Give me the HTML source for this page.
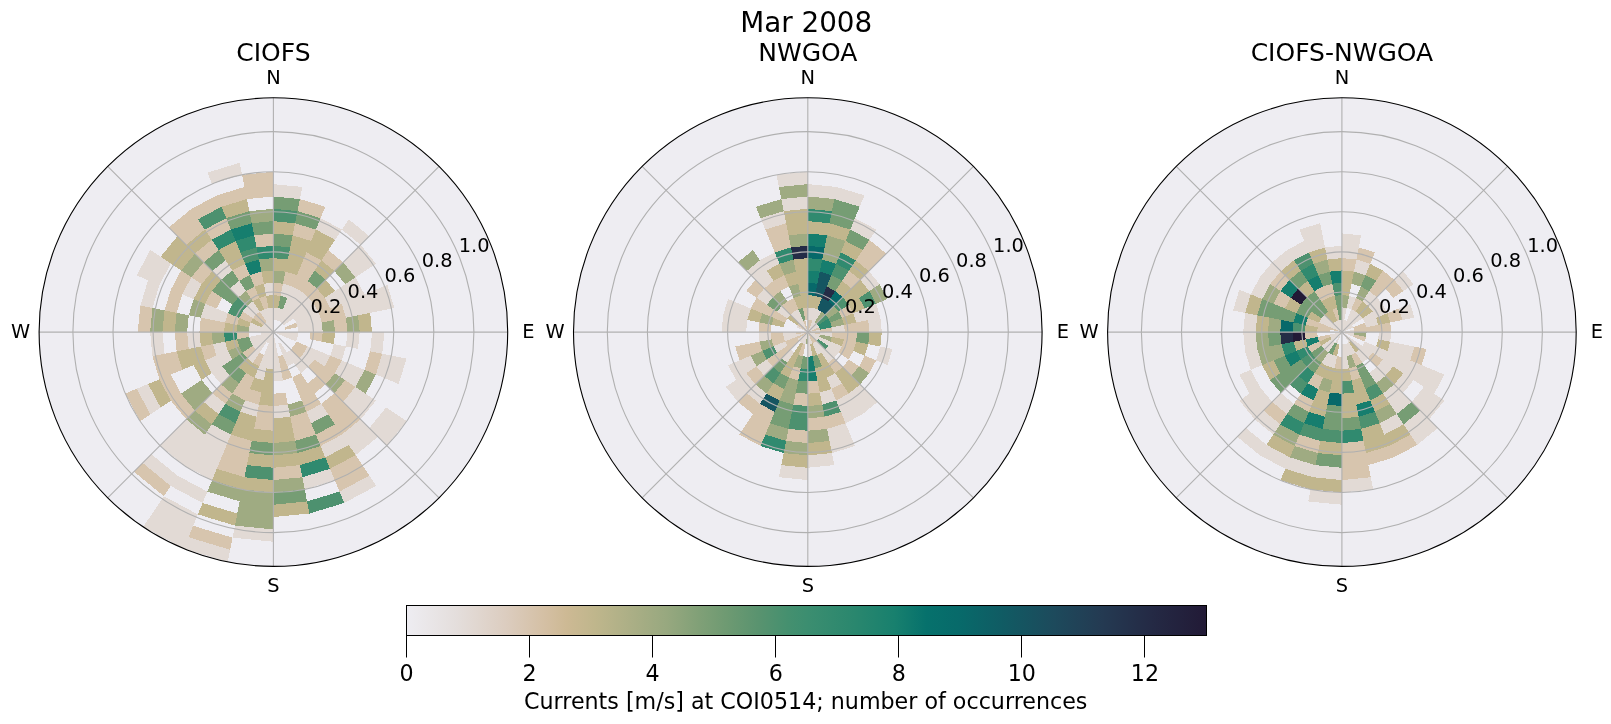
<!DOCTYPE html>
<html><head><meta charset="utf-8"><title>Mar 2008</title><style>html,body{margin:0;padding:0;background:#fff;width:1611px;height:724px;overflow:hidden}svg{display:block}text{will-change:transform}</style></head><body>
<svg width="1611" height="724" viewBox="0 0 1611 724" font-family="'DejaVu Sans', 'Liberation Sans', sans-serif"><circle cx="273.40" cy="332.10" r="234.30" fill="#eeedf2"/>
<g shape-rendering="crispEdges"><path fill="#e2dad5" d="M273.40 332.10L273.40 332.10L285.49 334.51L285.73 332.10ZM273.40 332.10L273.40 332.10L284.79 336.82L285.49 334.51ZM273.40 332.10L273.40 332.10L273.40 344.43L275.81 344.19ZM273.40 332.10L273.40 332.10L270.99 344.19L273.40 344.43ZM273.40 332.10L273.40 332.10L268.68 343.49L270.99 344.19ZM273.40 332.10L273.40 332.10L266.55 342.35L268.68 343.49ZM273.40 332.10L273.40 332.10L264.68 340.82L266.55 342.35ZM273.40 332.10L273.40 332.10L263.15 338.95L264.68 340.82ZM273.40 332.10L273.40 332.10L262.01 336.82L263.15 338.95ZM273.40 332.10L273.40 332.10L261.31 334.51L262.01 336.82ZM273.40 332.10L273.40 332.10L261.07 332.10L261.31 334.51ZM273.40 332.10L273.40 332.10L261.31 329.69L261.07 332.10ZM273.40 332.10L273.40 332.10L262.01 327.38L261.31 329.69ZM273.40 332.10L273.40 332.10L263.15 325.25L262.01 327.38ZM273.40 332.10L273.40 332.10L264.68 323.38L263.15 325.25ZM273.40 332.10L273.40 332.10L266.55 321.85L264.68 323.38ZM273.40 332.10L273.40 332.10L268.68 320.71L266.55 321.85ZM273.40 332.10L273.40 332.10L270.99 320.01L268.68 320.71ZM273.40 332.10L273.40 332.10L273.40 319.77L270.99 320.01ZM273.40 319.77L275.81 320.01L278.21 307.91L273.40 307.44ZM275.81 320.01L278.12 320.71L282.84 309.31L278.21 307.91ZM278.12 320.71L280.25 321.85L287.10 311.59L282.84 309.31ZM280.25 321.85L282.12 323.38L290.84 314.66L287.10 311.59ZM282.12 323.38L283.65 325.25L293.91 318.40L290.84 314.66ZM285.73 332.10L285.49 334.51L297.59 336.91L298.06 332.10ZM285.49 334.51L284.79 336.82L296.19 341.54L297.59 336.91ZM280.25 342.35L278.12 343.49L282.84 354.89L287.10 352.61ZM275.81 344.19L273.40 344.43L273.40 356.76L278.21 356.29ZM273.40 344.43L270.99 344.19L268.59 356.29L273.40 356.76ZM270.99 344.19L268.68 343.49L263.96 354.89L268.59 356.29ZM266.55 342.35L264.68 340.82L255.96 349.54L259.70 352.61ZM264.68 340.82L263.15 338.95L252.89 345.80L255.96 349.54ZM263.15 338.95L262.01 336.82L250.61 341.54L252.89 345.80ZM262.01 336.82L261.31 334.51L249.21 336.91L250.61 341.54ZM261.07 332.10L261.31 329.69L249.21 327.29L248.74 332.10ZM261.31 329.69L262.01 327.38L250.61 322.66L249.21 327.29ZM266.55 321.85L268.68 320.71L263.96 309.31L259.70 311.59ZM268.68 320.71L270.99 320.01L268.59 307.91L263.96 309.31ZM270.99 320.01L273.40 319.77L273.40 307.44L268.59 307.91ZM282.84 309.31L287.10 311.59L293.95 301.34L287.56 297.92ZM287.10 311.59L290.84 314.66L299.56 305.94L293.95 301.34ZM290.84 314.66L293.91 318.40L304.16 311.55L299.56 305.94ZM293.91 318.40L296.19 322.66L307.58 317.94L304.16 311.55ZM296.19 322.66L297.59 327.29L309.68 324.88L307.58 317.94ZM297.59 327.29L298.06 332.10L310.39 332.10L309.68 324.88ZM290.84 349.54L287.10 352.61L293.95 362.86L299.56 358.26ZM287.10 352.61L282.84 354.89L287.56 366.28L293.95 362.86ZM278.21 356.29L273.40 356.76L273.40 369.09L280.62 368.38ZM273.40 356.76L268.59 356.29L266.18 368.38L273.40 369.09ZM268.59 356.29L263.96 354.89L259.24 366.28L266.18 368.38ZM259.70 352.61L255.96 349.54L247.24 358.26L252.85 362.86ZM252.89 318.40L255.96 314.66L247.24 305.94L242.64 311.55ZM255.96 314.66L259.70 311.59L252.85 301.34L247.24 305.94ZM280.62 295.82L287.56 297.92L292.28 286.53L283.02 283.72ZM287.56 297.92L293.95 301.34L300.80 291.09L292.28 286.53ZM293.95 301.34L299.56 305.94L308.28 297.22L300.80 291.09ZM299.56 305.94L304.16 311.55L314.41 304.70L308.28 297.22ZM304.16 311.55L307.58 317.94L318.97 313.22L314.41 304.70ZM307.58 317.94L309.68 324.88L321.78 322.48L318.97 313.22ZM309.68 324.88L310.39 332.10L322.73 332.10L321.78 322.48ZM307.58 346.26L304.16 352.65L314.41 359.50L318.97 350.98ZM304.16 352.65L299.56 358.26L308.28 366.98L314.41 359.50ZM299.56 358.26L293.95 362.86L300.80 373.11L308.28 366.98ZM280.62 368.38L273.40 369.09L273.40 381.43L283.02 380.48ZM266.18 368.38L259.24 366.28L254.52 377.67L263.78 380.48ZM266.18 295.82L273.40 295.11L273.40 282.77L263.78 283.72ZM318.97 350.98L314.41 359.50L324.67 366.36L330.36 355.70ZM232.39 359.50L227.83 350.98L216.44 355.70L222.13 366.36ZM227.83 350.98L225.02 341.72L212.93 344.13L216.44 355.70ZM225.02 322.48L227.83 313.22L216.44 308.50L212.93 320.07ZM238.52 297.22L246.00 291.09L239.14 280.83L229.80 288.50ZM324.67 297.84L330.36 308.50L341.76 303.79L334.92 290.99ZM333.87 344.13L330.36 355.70L341.76 360.41L345.97 346.53ZM229.80 375.70L222.13 366.36L211.88 373.21L221.08 384.42ZM222.13 366.36L216.44 355.70L205.04 360.41L211.88 373.21ZM212.93 320.07L216.44 308.50L205.04 303.79L200.83 317.67ZM334.92 290.99L341.76 303.79L353.15 299.07L345.17 284.14ZM341.76 303.79L345.97 317.67L358.06 315.26L353.15 299.07ZM347.39 332.10L345.97 346.53L358.06 348.94L359.72 332.10ZM341.76 360.41L334.92 373.21L345.17 380.06L353.15 365.13ZM287.83 404.67L273.40 406.09L273.40 418.42L290.24 416.76ZM258.97 404.67L245.09 400.46L240.37 411.85L256.56 416.76ZM200.83 346.53L199.41 332.10L187.08 332.10L188.74 348.94ZM221.08 279.78L232.29 270.58L225.44 260.33L212.36 271.06ZM345.17 284.14L353.15 299.07L364.54 294.35L355.43 277.29ZM353.15 299.07L358.06 315.26L370.16 312.85L364.54 294.35ZM353.15 365.13L345.17 380.06L355.43 386.91L364.54 369.85ZM321.36 403.87L306.43 411.85L311.15 423.24L328.21 414.13ZM225.44 403.87L212.36 393.14L203.64 401.86L218.59 414.13ZM193.65 299.07L201.63 284.14L191.37 277.29L182.26 294.35ZM343.16 262.34L355.43 277.29L365.68 270.44L351.88 253.62ZM364.54 294.35L370.16 312.85L382.25 310.45L375.94 289.63ZM372.05 332.10L370.16 351.35L382.25 353.75L384.38 332.10ZM355.43 386.91L343.16 401.86L351.88 410.58L365.68 393.76ZM315.87 229.56L335.06 239.82L341.91 229.57L320.59 218.17ZM351.88 253.62L365.68 270.44L375.93 263.59L360.60 244.90ZM375.94 289.63L382.25 310.45L394.35 308.04L387.33 284.91ZM382.25 353.75L375.94 374.57L387.33 379.29L394.35 356.16ZM365.68 393.76L351.88 410.58L360.60 419.30L375.93 400.61ZM230.93 434.64L211.74 424.38L204.89 434.63L226.21 446.03ZM164.55 353.75L162.42 332.10L150.08 332.10L152.45 356.16ZM341.91 229.57L360.60 244.90L369.32 236.18L348.76 219.31ZM394.35 356.16L387.33 379.29L398.72 384.01L406.44 358.56ZM360.60 419.30L341.91 434.63L348.76 444.89L369.32 428.02ZM341.91 434.63L320.59 446.03L325.31 457.42L348.76 444.89ZM226.21 446.03L204.89 434.63L198.04 444.89L221.49 457.42ZM204.89 434.63L186.20 419.30L177.48 428.02L198.04 444.89ZM152.45 308.04L159.47 284.91L148.08 280.19L140.36 305.64ZM159.47 284.91L170.87 263.59L160.61 256.74L148.08 280.19ZM273.40 196.45L299.86 199.06L302.27 186.96L273.40 184.12ZM386.19 407.46L369.32 428.02L378.04 436.74L396.44 414.31ZM369.32 428.02L348.76 444.89L355.61 455.14L378.04 436.74ZM221.49 457.42L198.04 444.89L191.19 455.14L216.77 468.81ZM198.04 444.89L177.48 428.02L168.76 436.74L191.19 455.14ZM160.61 407.46L148.08 384.01L136.69 388.73L150.36 414.31ZM148.08 280.19L160.61 256.74L150.36 249.89L136.69 275.47ZM396.44 414.31L378.04 436.74L386.76 445.46L406.69 421.16ZM330.03 468.81L302.27 477.24L304.68 489.33L334.75 480.21ZM216.77 468.81L191.19 455.14L184.34 465.39L212.05 480.21ZM191.19 455.14L168.76 436.74L160.04 445.46L184.34 465.39ZM212.05 183.99L242.12 174.87L239.72 162.78L207.33 172.60ZM369.31 475.65L339.47 491.60L344.19 502.99L376.17 485.90ZM207.33 491.60L177.49 475.65L170.63 485.90L202.61 502.99ZM177.49 475.65L151.32 454.18L142.60 462.90L170.63 485.90ZM273.40 529.41L234.91 525.61L232.50 537.71L273.40 541.74ZM197.89 514.39L163.78 496.15L156.93 506.41L193.18 525.78ZM193.18 525.78L156.93 506.41L150.08 516.66L188.46 537.17ZM230.10 549.80L188.46 537.17L183.74 548.56L227.69 561.90ZM188.46 537.17L150.08 516.66L143.23 526.91L183.74 548.56Z"/>
<path fill="#d7c5ae" d="M284.79 327.38L285.49 329.69L297.59 327.29L296.19 322.66ZM263.15 325.25L264.68 323.38L255.96 314.66L252.89 318.40ZM264.68 323.38L266.55 321.85L259.70 311.59L255.96 314.66ZM296.19 341.54L293.91 345.80L304.16 352.65L307.58 346.26ZM293.91 345.80L290.84 349.54L299.56 358.26L304.16 352.65ZM282.84 354.89L278.21 356.29L280.62 368.38L287.56 366.28ZM263.96 354.89L259.70 352.61L252.85 362.86L259.24 366.28ZM255.96 349.54L252.89 345.80L242.64 352.65L247.24 358.26ZM249.21 336.91L248.74 332.10L236.41 332.10L237.12 339.32ZM250.61 322.66L252.89 318.40L242.64 311.55L239.22 317.94ZM263.96 309.31L268.59 307.91L266.18 295.82L259.24 297.92ZM273.40 295.11L280.62 295.82L283.02 283.72L273.40 282.77ZM310.39 332.10L309.68 339.32L321.78 341.72L322.73 332.10ZM287.56 366.28L280.62 368.38L283.02 380.48L292.28 377.67ZM237.12 324.88L239.22 317.94L227.83 313.22L225.02 322.48ZM252.85 301.34L259.24 297.92L254.52 286.53L246.00 291.09ZM283.02 283.72L292.28 286.53L297.00 275.14L285.43 271.63ZM292.28 286.53L300.80 291.09L307.66 280.83L297.00 275.14ZM300.80 291.09L308.28 297.22L317.00 288.50L307.66 280.83ZM308.28 297.22L314.41 304.70L324.67 297.84L317.00 288.50ZM314.41 304.70L318.97 313.22L330.36 308.50L324.67 297.84ZM318.97 313.22L321.78 322.48L333.87 320.07L330.36 308.50ZM314.41 359.50L308.28 366.98L317.00 375.70L324.67 366.36ZM300.80 373.11L292.28 377.67L297.00 389.06L307.66 383.37ZM254.52 377.67L246.00 373.11L239.14 383.37L249.80 389.06ZM224.07 332.10L225.02 322.48L212.93 320.07L211.74 332.10ZM254.52 286.53L263.78 283.72L261.37 271.63L249.80 275.14ZM297.00 275.14L307.66 280.83L314.51 270.58L301.71 263.74ZM330.36 308.50L333.87 320.07L345.97 317.67L341.76 303.79ZM333.87 320.07L335.06 332.10L347.39 332.10L345.97 317.67ZM330.36 355.70L324.67 366.36L334.92 373.21L341.76 360.41ZM324.67 366.36L317.00 375.70L325.72 384.42L334.92 373.21ZM317.00 375.70L307.66 383.37L314.51 393.62L325.72 384.42ZM307.66 383.37L297.00 389.06L301.71 400.46L314.51 393.62ZM285.43 392.57L273.40 393.76L273.40 406.09L287.83 404.67ZM261.37 392.57L249.80 389.06L245.09 400.46L258.97 404.67ZM249.80 389.06L239.14 383.37L232.29 393.62L245.09 400.46ZM216.44 355.70L212.93 344.13L200.83 346.53L205.04 360.41ZM211.74 332.10L212.93 320.07L200.83 317.67L199.41 332.10ZM216.44 308.50L222.13 297.84L211.88 290.99L205.04 303.79ZM239.14 280.83L249.80 275.14L245.09 263.74L232.29 270.58ZM301.71 263.74L314.51 270.58L321.36 260.33L306.43 252.35ZM314.51 393.62L301.71 400.46L306.43 411.85L321.36 403.87ZM273.40 406.09L258.97 404.67L256.56 416.76L273.40 418.42ZM232.29 393.62L221.08 384.42L212.36 393.14L225.44 403.87ZM321.36 260.33L334.44 271.06L343.16 262.34L328.21 250.07ZM345.17 380.06L334.44 393.14L343.16 401.86L355.43 386.91ZM334.44 393.14L321.36 403.87L328.21 414.13L343.16 401.86ZM306.43 411.85L290.24 416.76L292.65 428.86L311.15 423.24ZM273.40 418.42L256.56 416.76L254.15 428.86L273.40 430.75ZM188.74 348.94L187.08 332.10L174.75 332.10L176.64 351.35ZM201.63 284.14L212.36 271.06L203.64 262.34L191.37 277.29ZM256.56 247.44L273.40 245.78L273.40 233.45L254.15 235.34ZM292.65 235.34L311.15 240.96L315.87 229.56L295.05 223.25ZM370.16 351.35L364.54 369.85L375.94 374.57L382.25 353.75ZM343.16 401.86L328.21 414.13L335.06 424.38L351.88 410.58ZM311.15 423.24L292.65 428.86L295.05 440.95L315.87 434.64ZM182.26 369.85L176.64 351.35L164.55 353.75L170.86 374.57ZM176.64 312.85L182.26 294.35L170.86 289.63L164.55 310.45ZM182.26 294.35L191.37 277.29L181.12 270.44L170.86 289.63ZM203.64 262.34L218.59 250.07L211.74 239.82L194.92 253.62ZM351.88 410.58L335.06 424.38L341.91 434.63L360.60 419.30ZM335.06 424.38L315.87 434.64L320.59 446.03L341.91 434.63ZM251.75 440.95L230.93 434.64L226.21 446.03L249.34 453.05ZM194.92 410.58L181.12 393.76L170.87 400.61L186.20 419.30ZM181.12 393.76L170.86 374.57L159.47 379.29L170.87 400.61ZM170.86 374.57L164.55 353.75L152.45 356.16L159.47 379.29ZM211.74 239.82L230.93 229.56L226.21 218.17L204.89 229.57ZM297.46 211.15L320.59 218.17L325.31 206.78L299.86 199.06ZM249.34 453.05L226.21 446.03L221.49 457.42L246.94 465.14ZM150.08 332.10L152.45 308.04L140.36 305.64L137.75 332.10ZM186.20 244.90L204.89 229.57L198.04 219.31L177.48 236.18ZM299.86 465.14L273.40 467.75L273.40 480.08L302.27 477.24ZM246.94 465.14L221.49 457.42L216.77 468.81L244.53 477.24ZM177.48 236.18L198.04 219.31L191.19 209.06L168.76 227.46ZM198.04 219.31L221.49 206.78L216.77 195.39L191.19 209.06ZM221.49 206.78L246.94 199.06L244.53 186.96L216.77 195.39ZM246.94 199.06L273.40 196.45L273.40 184.12L244.53 186.96ZM355.61 455.14L330.03 468.81L334.75 480.21L362.46 465.39ZM150.36 414.31L136.69 388.73L125.29 393.45L140.11 421.16ZM244.53 186.96L273.40 184.12L273.40 171.79L242.12 174.87ZM362.46 465.39L334.75 480.21L339.47 491.60L369.31 475.65ZM170.63 485.90L142.60 462.90L133.88 471.62L163.78 496.15ZM232.50 537.71L193.18 525.78L188.46 537.17L230.10 549.80Z"/>
<path fill="#c1b68d" d="M262.01 327.38L263.15 325.25L252.89 318.40L250.61 322.66ZM273.40 307.44L278.21 307.91L280.62 295.82L273.40 295.11ZM249.21 327.29L250.61 322.66L239.22 317.94L237.12 324.88ZM259.70 311.59L263.96 309.31L259.24 297.92L252.85 301.34ZM268.59 307.91L273.40 307.44L273.40 295.11L266.18 295.82ZM273.40 369.09L266.18 368.38L263.78 380.48L273.40 381.43ZM259.24 366.28L252.85 362.86L246.00 373.11L254.52 377.67ZM252.85 362.86L247.24 358.26L238.52 366.98L246.00 373.11ZM239.22 346.26L237.12 339.32L225.02 341.72L227.83 350.98ZM236.41 332.10L237.12 324.88L225.02 322.48L224.07 332.10ZM259.24 297.92L266.18 295.82L263.78 283.72L254.52 286.53ZM322.73 332.10L321.78 341.72L333.87 344.13L335.06 332.10ZM273.40 381.43L263.78 380.48L261.37 392.57L273.40 393.76ZM263.78 380.48L254.52 377.67L249.80 389.06L261.37 392.57ZM263.78 283.72L273.40 282.77L273.40 270.44L261.37 271.63ZM273.40 270.44L285.43 271.63L287.83 259.53L273.40 258.11ZM285.43 271.63L297.00 275.14L301.71 263.74L287.83 259.53ZM317.00 288.50L324.67 297.84L334.92 290.99L325.72 279.78ZM273.40 393.76L261.37 392.57L258.97 404.67L273.40 406.09ZM212.93 344.13L211.74 332.10L199.41 332.10L200.83 346.53ZM287.83 259.53L301.71 263.74L306.43 252.35L290.24 247.44ZM314.51 270.58L325.72 279.78L334.44 271.06L321.36 260.33ZM211.88 373.21L205.04 360.41L193.65 365.13L201.63 380.06ZM205.04 360.41L200.83 346.53L188.74 348.94L193.65 365.13ZM205.04 303.79L211.88 290.99L201.63 284.14L193.65 299.07ZM211.88 290.99L221.08 279.78L212.36 271.06L201.63 284.14ZM232.29 270.58L245.09 263.74L240.37 252.35L225.44 260.33ZM290.24 247.44L306.43 252.35L311.15 240.96L292.65 235.34ZM306.43 252.35L321.36 260.33L328.21 250.07L311.15 240.96ZM358.06 315.26L359.72 332.10L372.05 332.10L370.16 312.85ZM290.24 416.76L273.40 418.42L273.40 430.75L292.65 428.86ZM256.56 416.76L240.37 411.85L235.65 423.24L254.15 428.86ZM193.65 365.13L188.74 348.94L176.64 351.35L182.26 369.85ZM225.44 260.33L240.37 252.35L235.65 240.96L218.59 250.07ZM273.40 233.45L292.65 235.34L295.05 223.25L273.40 221.12ZM311.15 240.96L328.21 250.07L335.06 239.82L315.87 229.56ZM292.65 428.86L273.40 430.75L273.40 443.08L295.05 440.95ZM273.40 430.75L254.15 428.86L251.75 440.95L273.40 443.08ZM254.15 428.86L235.65 423.24L230.93 434.64L251.75 440.95ZM218.59 414.13L203.64 401.86L194.92 410.58L211.74 424.38ZM174.75 332.10L176.64 312.85L164.55 310.45L162.42 332.10ZM181.12 270.44L194.92 253.62L186.20 244.90L170.87 263.59ZM194.92 253.62L211.74 239.82L204.89 229.57L186.20 244.90ZM320.59 446.03L297.46 453.05L299.86 465.14L325.31 457.42ZM297.46 453.05L273.40 455.42L273.40 467.75L299.86 465.14ZM273.40 455.42L249.34 453.05L246.94 465.14L273.40 467.75ZM170.87 400.61L159.47 379.29L148.08 384.01L160.61 407.46ZM170.87 263.59L186.20 244.90L177.48 236.18L160.61 256.74ZM226.21 218.17L249.34 211.15L246.94 199.06L221.49 206.78ZM348.76 444.89L325.31 457.42L330.03 468.81L355.61 455.14ZM273.40 480.08L244.53 477.24L242.12 489.33L273.40 492.41ZM244.53 477.24L216.77 468.81L212.05 480.21L242.12 489.33ZM307.08 501.42L273.40 504.74L273.40 517.07L309.49 513.52ZM237.31 513.52L202.61 502.99L197.89 514.39L234.91 525.61Z"/>
<path fill="#9fab82" d="M248.74 332.10L249.21 327.29L237.12 324.88L236.41 332.10ZM242.64 352.65L239.22 346.26L227.83 350.98L232.39 359.50ZM247.24 305.94L252.85 301.34L246.00 291.09L238.52 297.22ZM273.40 282.77L283.02 283.72L285.43 271.63L273.40 270.44ZM321.78 322.48L322.73 332.10L335.06 332.10L333.87 320.07ZM225.02 341.72L224.07 332.10L211.74 332.10L212.93 344.13ZM239.14 383.37L229.80 375.70L221.08 384.42L232.29 393.62ZM261.37 271.63L273.40 270.44L273.40 258.11L258.97 259.53ZM345.97 317.67L347.39 332.10L359.72 332.10L358.06 315.26ZM334.92 373.21L325.72 384.42L334.44 393.14L345.17 380.06ZM301.71 400.46L287.83 404.67L290.24 416.76L306.43 411.85ZM245.09 400.46L232.29 393.62L225.44 403.87L240.37 411.85ZM200.83 317.67L205.04 303.79L193.65 299.07L188.74 315.26ZM334.44 271.06L345.17 284.14L355.43 277.29L343.16 262.34ZM212.36 393.14L201.63 380.06L191.37 386.91L203.64 401.86ZM187.08 332.10L188.74 315.26L176.64 312.85L174.75 332.10ZM364.54 369.85L355.43 386.91L365.68 393.76L375.94 374.57ZM203.64 401.86L191.37 386.91L181.12 393.76L194.92 410.58ZM191.37 277.29L203.64 262.34L194.92 253.62L181.12 270.44ZM295.05 440.95L273.40 443.08L273.40 455.42L297.46 453.05ZM211.74 424.38L194.92 410.58L186.20 419.30L204.89 434.63ZM162.42 332.10L164.55 310.45L152.45 308.04L150.08 332.10ZM251.75 223.25L273.40 221.12L273.40 208.78L249.34 211.15ZM302.27 477.24L273.40 480.08L273.40 492.41L304.68 489.33ZM273.40 492.41L242.12 489.33L239.72 501.42L273.40 504.74ZM242.12 489.33L212.05 480.21L207.33 491.60L239.72 501.42ZM273.40 504.74L239.72 501.42L237.31 513.52L273.40 517.07ZM273.40 517.07L237.31 513.52L234.91 525.61L273.40 529.41Z"/>
<path fill="#769d74" d="M278.21 307.91L282.84 309.31L287.56 297.92L280.62 295.82ZM252.89 345.80L250.61 341.54L239.22 346.26L242.64 352.65ZM250.61 341.54L249.21 336.91L237.12 339.32L239.22 346.26ZM247.24 358.26L242.64 352.65L232.39 359.50L238.52 366.98ZM246.00 373.11L238.52 366.98L229.80 375.70L239.14 383.37ZM238.52 366.98L232.39 359.50L222.13 366.36L229.80 375.70ZM232.39 304.70L238.52 297.22L229.80 288.50L222.13 297.84ZM246.00 291.09L254.52 286.53L249.80 275.14L239.14 280.83ZM307.66 280.83L317.00 288.50L325.72 279.78L314.51 270.58ZM222.13 297.84L229.80 288.50L221.08 279.78L211.88 290.99ZM229.80 288.50L239.14 280.83L232.29 270.58L221.08 279.78ZM273.40 245.78L290.24 247.44L292.65 235.34L273.40 233.45ZM212.36 271.06L225.44 260.33L218.59 250.07L203.64 262.34ZM328.21 414.13L311.15 423.24L315.87 434.64L335.06 424.38ZM235.65 423.24L218.59 414.13L211.74 424.38L230.93 434.64ZM254.15 235.34L273.40 233.45L273.40 221.12L251.75 223.25ZM295.05 223.25L315.87 229.56L320.59 218.17L297.46 211.15ZM315.87 434.64L295.05 440.95L297.46 453.05L320.59 446.03ZM273.40 443.08L251.75 440.95L249.34 453.05L273.40 455.42ZM230.93 229.56L251.75 223.25L249.34 211.15L226.21 218.17ZM273.40 208.78L297.46 211.15L299.86 199.06L273.40 196.45ZM304.68 489.33L273.40 492.41L273.40 504.74L307.08 501.42Z"/>
<path fill="#4d916f" d="M239.22 317.94L242.64 311.55L232.39 304.70L227.83 313.22ZM242.64 311.55L247.24 305.94L238.52 297.22L232.39 304.70ZM273.40 258.11L287.83 259.53L290.24 247.44L273.40 245.78ZM245.09 263.74L258.97 259.53L256.56 247.44L240.37 252.35ZM240.37 411.85L225.44 403.87L218.59 414.13L235.65 423.24ZM273.40 221.12L295.05 223.25L297.46 211.15L273.40 208.78ZM204.89 229.57L226.21 218.17L221.49 206.78L198.04 219.31ZM273.40 467.75L246.94 465.14L244.53 477.24L273.40 480.08ZM339.47 491.60L307.08 501.42L309.49 513.52L344.19 502.99Z"/>
<path fill="#308a6f" d="M237.12 339.32L236.41 332.10L224.07 332.10L225.02 341.72ZM258.97 259.53L273.40 258.11L273.40 245.78L256.56 247.44ZM240.37 252.35L256.56 247.44L254.15 235.34L235.65 240.96ZM218.59 250.07L235.65 240.96L230.93 229.56L211.74 239.82ZM325.31 457.42L299.86 465.14L302.27 477.24L330.03 468.81Z"/>
<path fill="#167e6e" d="M249.80 275.14L261.37 271.63L258.97 259.53L245.09 263.74ZM235.65 240.96L254.15 235.34L251.75 223.25L230.93 229.56Z"/></g>
<g fill="none" stroke="#b0b0b0" stroke-width="1.1"><circle cx="273.40" cy="332.10" r="40.10"/><circle cx="273.40" cy="332.10" r="80.20"/><circle cx="273.40" cy="332.10" r="120.30"/><circle cx="273.40" cy="332.10" r="160.40"/><circle cx="273.40" cy="332.10" r="200.50"/><line x1="273.40" y1="332.10" x2="273.40" y2="97.80"/><line x1="273.40" y1="332.10" x2="439.08" y2="166.42"/><line x1="273.40" y1="332.10" x2="507.70" y2="332.10"/><line x1="273.40" y1="332.10" x2="439.08" y2="497.78"/><line x1="273.40" y1="332.10" x2="273.40" y2="566.40"/><line x1="273.40" y1="332.10" x2="107.72" y2="497.78"/><line x1="273.40" y1="332.10" x2="39.10" y2="332.10"/><line x1="273.40" y1="332.10" x2="107.72" y2="166.42"/></g>
<circle cx="273.40" cy="332.10" r="234.30" fill="none" stroke="#000" stroke-width="1.1"/>
<circle cx="807.80" cy="332.10" r="234.30" fill="#eeedf2"/>
<g shape-rendering="crispEdges"><path fill="#e2dad5" d="M807.80 332.10L807.80 332.10L814.65 321.85L812.52 320.71ZM807.80 332.10L807.80 332.10L816.52 323.38L814.65 321.85ZM807.80 332.10L807.80 332.10L818.05 325.25L816.52 323.38ZM807.80 332.10L807.80 332.10L819.19 327.38L818.05 325.25ZM807.80 332.10L807.80 332.10L820.13 332.10L819.89 329.69ZM807.80 332.10L807.80 332.10L819.19 336.82L819.89 334.51ZM807.80 332.10L807.80 332.10L818.05 338.95L819.19 336.82ZM807.80 332.10L807.80 332.10L816.52 340.82L818.05 338.95ZM807.80 332.10L807.80 332.10L810.21 344.19L812.52 343.49ZM807.80 332.10L807.80 332.10L807.80 344.43L810.21 344.19ZM807.80 332.10L807.80 332.10L803.08 343.49L805.39 344.19ZM807.80 332.10L807.80 332.10L800.95 342.35L803.08 343.49ZM807.80 332.10L807.80 332.10L799.08 340.82L800.95 342.35ZM807.80 332.10L807.80 332.10L797.55 338.95L799.08 340.82ZM807.80 332.10L807.80 332.10L795.71 334.51L796.41 336.82ZM807.80 332.10L807.80 332.10L797.55 325.25L796.41 327.38ZM807.80 332.10L807.80 332.10L800.95 321.85L799.08 323.38ZM807.80 332.10L807.80 332.10L803.08 320.71L800.95 321.85ZM807.80 319.77L810.21 320.01L812.61 307.91L807.80 307.44ZM810.21 320.01L812.52 320.71L817.24 309.31L812.61 307.91ZM812.52 320.71L814.65 321.85L821.50 311.59L817.24 309.31ZM820.13 332.10L819.89 334.51L831.99 336.91L832.46 332.10ZM819.19 336.82L818.05 338.95L828.31 345.80L830.59 341.54ZM816.52 340.82L814.65 342.35L821.50 352.61L825.24 349.54ZM814.65 342.35L812.52 343.49L817.24 354.89L821.50 352.61ZM810.21 344.19L807.80 344.43L807.80 356.76L812.61 356.29ZM796.41 336.82L795.71 334.51L783.61 336.91L785.01 341.54ZM795.71 334.51L795.47 332.10L783.14 332.10L783.61 336.91ZM799.08 323.38L800.95 321.85L794.10 311.59L790.36 314.66ZM800.95 321.85L803.08 320.71L798.36 309.31L794.10 311.59ZM831.99 327.29L832.46 332.10L844.79 332.10L844.08 324.88ZM830.59 341.54L828.31 345.80L838.56 352.65L841.98 346.26ZM828.31 345.80L825.24 349.54L833.96 358.26L838.56 352.65ZM825.24 349.54L821.50 352.61L828.35 362.86L833.96 358.26ZM794.10 352.61L790.36 349.54L781.64 358.26L787.25 362.86ZM787.29 345.80L785.01 341.54L773.62 346.26L777.04 352.65ZM787.29 318.40L790.36 314.66L781.64 305.94L777.04 311.55ZM771.52 339.32L770.81 332.10L758.47 332.10L759.42 341.72ZM853.37 313.22L856.18 322.48L868.27 320.07L864.76 308.50ZM835.20 373.11L826.68 377.67L831.40 389.06L842.06 383.37ZM772.92 366.98L766.79 359.50L756.53 366.36L764.20 375.70ZM766.79 304.70L772.92 297.22L764.20 288.50L756.53 297.84ZM864.76 308.50L868.27 320.07L880.37 317.67L876.16 303.79ZM868.27 320.07L869.46 332.10L881.79 332.10L880.37 317.67ZM831.40 389.06L819.83 392.57L822.23 404.67L836.11 400.46ZM756.53 366.36L750.84 355.70L739.44 360.41L746.28 373.21ZM746.14 332.10L747.33 320.07L735.23 317.67L733.81 332.10ZM747.33 320.07L750.84 308.50L739.44 303.79L735.23 317.67ZM764.20 288.50L773.54 280.83L766.69 270.58L755.48 279.78ZM860.12 279.78L869.32 290.99L879.57 284.14L868.84 271.06ZM880.37 346.53L876.16 360.41L887.55 365.13L892.46 348.94ZM860.12 384.42L848.91 393.62L855.76 403.87L868.84 393.14ZM848.91 393.62L836.11 400.46L840.83 411.85L855.76 403.87ZM766.69 393.62L755.48 384.42L746.76 393.14L759.84 403.87ZM755.48 384.42L746.28 373.21L736.03 380.06L746.76 393.14ZM746.28 373.21L739.44 360.41L728.05 365.13L736.03 380.06ZM733.81 332.10L735.23 317.67L723.14 315.26L721.48 332.10ZM735.23 317.67L739.44 303.79L728.05 299.07L723.14 315.26ZM755.48 279.78L766.69 270.58L759.84 260.33L746.76 271.06ZM766.69 270.58L779.49 263.74L774.77 252.35L759.84 260.33ZM868.84 393.14L855.76 403.87L862.61 414.13L877.56 401.86ZM855.76 403.87L840.83 411.85L845.55 423.24L862.61 414.13ZM746.76 393.14L736.03 380.06L725.77 386.91L738.04 401.86ZM845.55 423.24L827.05 428.86L829.45 440.95L850.27 434.64ZM850.27 229.56L869.46 239.82L876.31 229.57L854.99 218.17ZM850.27 434.64L829.45 440.95L831.86 453.05L854.99 446.03ZM765.33 229.56L786.15 223.25L783.74 211.15L760.61 218.17ZM831.86 453.05L807.80 455.42L807.80 467.75L834.26 465.14ZM783.74 211.15L807.80 208.78L807.80 196.45L781.34 199.06ZM807.80 196.45L834.26 199.06L836.67 186.96L807.80 184.12ZM834.26 199.06L859.71 206.78L864.43 195.39L836.67 186.96ZM807.80 467.75L781.34 465.14L778.93 477.24L807.80 480.08ZM778.93 186.96L807.80 184.12L807.80 171.79L776.52 174.87Z"/>
<path fill="#d7c5ae" d="M807.80 332.10L807.80 332.10L810.21 320.01L807.80 319.77ZM807.80 332.10L807.80 332.10L812.52 320.71L810.21 320.01ZM807.80 332.10L807.80 332.10L819.89 329.69L819.19 327.38ZM807.80 332.10L807.80 332.10L819.89 334.51L820.13 332.10ZM807.80 332.10L807.80 332.10L814.65 342.35L816.52 340.82ZM807.80 332.10L807.80 332.10L812.52 343.49L814.65 342.35ZM807.80 332.10L807.80 332.10L796.41 336.82L797.55 338.95ZM807.80 332.10L807.80 332.10L795.47 332.10L795.71 334.51ZM807.80 332.10L807.80 332.10L799.08 323.38L797.55 325.25ZM807.80 332.10L807.80 332.10L805.39 320.01L803.08 320.71ZM819.89 329.69L820.13 332.10L832.46 332.10L831.99 327.29ZM805.39 344.19L803.08 343.49L798.36 354.89L802.99 356.29ZM799.08 340.82L797.55 338.95L787.29 345.80L790.36 349.54ZM797.55 338.95L796.41 336.82L785.01 341.54L787.29 345.80ZM805.39 320.01L807.80 319.77L807.80 307.44L802.99 307.91ZM832.46 332.10L831.99 336.91L844.08 339.32L844.79 332.10ZM790.36 349.54L787.29 345.80L777.04 352.65L781.64 358.26ZM785.01 341.54L783.61 336.91L771.52 339.32L773.62 346.26ZM783.61 336.91L783.14 332.10L770.81 332.10L771.52 339.32ZM785.01 322.66L787.29 318.40L777.04 311.55L773.62 317.94ZM790.36 314.66L794.10 311.59L787.25 301.34L781.64 305.94ZM794.10 311.59L798.36 309.31L793.64 297.92L787.25 301.34ZM838.56 311.55L841.98 317.94L853.37 313.22L848.81 304.70ZM844.08 324.88L844.79 332.10L857.13 332.10L856.18 322.48ZM844.79 332.10L844.08 339.32L856.18 341.72L857.13 332.10ZM844.08 339.32L841.98 346.26L853.37 350.98L856.18 341.72ZM841.98 346.26L838.56 352.65L848.81 359.50L853.37 350.98ZM833.96 358.26L828.35 362.86L835.20 373.11L842.68 366.98ZM800.58 368.38L793.64 366.28L788.92 377.67L798.18 380.48ZM781.64 358.26L777.04 352.65L766.79 359.50L772.92 366.98ZM770.81 332.10L771.52 324.88L759.42 322.48L758.47 332.10ZM773.62 317.94L777.04 311.55L766.79 304.70L762.23 313.22ZM856.18 322.48L857.13 332.10L869.46 332.10L868.27 320.07ZM848.81 359.50L842.68 366.98L851.40 375.70L859.07 366.36ZM817.42 380.48L807.80 381.43L807.80 393.76L819.83 392.57ZM762.23 350.98L759.42 341.72L747.33 344.13L750.84 355.70ZM762.23 313.22L766.79 304.70L756.53 297.84L750.84 308.50ZM772.92 297.22L780.40 291.09L773.54 280.83L764.20 288.50ZM780.40 291.09L788.92 286.53L784.20 275.14L773.54 280.83ZM842.06 280.83L851.40 288.50L860.12 279.78L848.91 270.58ZM864.76 355.70L859.07 366.36L869.32 373.21L876.16 360.41ZM842.06 383.37L831.40 389.06L836.11 400.46L848.91 393.62ZM807.80 393.76L795.77 392.57L793.37 404.67L807.80 406.09ZM764.20 375.70L756.53 366.36L746.28 373.21L755.48 384.42ZM750.84 355.70L747.33 344.13L735.23 346.53L739.44 360.41ZM756.53 297.84L764.20 288.50L755.48 279.78L746.28 290.99ZM855.76 260.33L868.84 271.06L877.56 262.34L862.61 250.07ZM840.83 411.85L824.64 416.76L827.05 428.86L845.55 423.24ZM824.64 416.76L807.80 418.42L807.80 430.75L827.05 428.86ZM774.77 411.85L759.84 403.87L752.99 414.13L770.05 423.24ZM759.84 403.87L746.76 393.14L738.04 401.86L752.99 414.13ZM774.77 252.35L790.96 247.44L788.55 235.34L770.05 240.96ZM862.61 250.07L877.56 262.34L886.28 253.62L869.46 239.82ZM807.80 430.75L788.55 428.86L786.15 440.95L807.80 443.08ZM770.05 423.24L752.99 414.13L746.14 424.38L765.33 434.64ZM770.05 240.96L788.55 235.34L786.15 223.25L765.33 229.56ZM765.33 434.64L746.14 424.38L739.29 434.63L760.61 446.03Z"/>
<path fill="#c1b68d" d="M812.52 343.49L810.21 344.19L812.61 356.29L817.24 354.89ZM803.08 343.49L800.95 342.35L794.10 352.61L798.36 354.89ZM797.55 325.25L799.08 323.38L790.36 314.66L787.29 318.40ZM807.80 307.44L812.61 307.91L815.02 295.82L807.80 295.11ZM812.61 307.91L817.24 309.31L821.96 297.92L815.02 295.82ZM831.99 336.91L830.59 341.54L841.98 346.26L844.08 339.32ZM821.50 352.61L817.24 354.89L821.96 366.28L828.35 362.86ZM798.36 354.89L794.10 352.61L787.25 362.86L793.64 366.28ZM783.61 327.29L785.01 322.66L773.62 317.94L771.52 324.88ZM798.36 309.31L802.99 307.91L800.58 295.82L793.64 297.92ZM802.99 307.91L807.80 307.44L807.80 295.11L800.58 295.82ZM841.98 317.94L844.08 324.88L856.18 322.48L853.37 313.22ZM828.35 362.86L821.96 366.28L826.68 377.67L835.20 373.11ZM821.96 366.28L815.02 368.38L817.42 380.48L826.68 377.67ZM793.64 366.28L787.25 362.86L780.40 373.11L788.92 377.67ZM800.58 295.82L807.80 295.11L807.80 282.77L798.18 283.72ZM835.20 291.09L842.68 297.22L851.40 288.50L842.06 280.83ZM842.68 297.22L848.81 304.70L859.07 297.84L851.40 288.50ZM848.81 304.70L853.37 313.22L864.76 308.50L859.07 297.84ZM856.18 341.72L853.37 350.98L864.76 355.70L868.27 344.13ZM842.68 366.98L835.20 373.11L842.06 383.37L851.40 375.70ZM826.68 377.67L817.42 380.48L819.83 392.57L831.40 389.06ZM759.42 322.48L762.23 313.22L750.84 308.50L747.33 320.07ZM788.92 286.53L798.18 283.72L795.77 271.63L784.20 275.14ZM798.18 283.72L807.80 282.77L807.80 270.44L795.77 271.63ZM851.40 288.50L859.07 297.84L869.32 290.99L860.12 279.78ZM869.46 332.10L868.27 344.13L880.37 346.53L881.79 332.10ZM851.40 375.70L842.06 383.37L848.91 393.62L860.12 384.42ZM819.83 392.57L807.80 393.76L807.80 406.09L822.23 404.67ZM784.20 389.06L773.54 383.37L766.69 393.62L779.49 400.46ZM773.54 280.83L784.20 275.14L779.49 263.74L766.69 270.58ZM795.77 271.63L807.80 270.44L807.80 258.11L793.37 259.53ZM848.91 270.58L860.12 279.78L868.84 271.06L855.76 260.33ZM840.83 252.35L855.76 260.33L862.61 250.07L845.55 240.96ZM807.80 233.45L827.05 235.34L829.45 223.25L807.80 221.12ZM827.05 235.34L845.55 240.96L850.27 229.56L829.45 223.25ZM788.55 235.34L807.80 233.45L807.80 221.12L786.15 223.25ZM829.45 440.95L807.80 443.08L807.80 455.42L831.86 453.05ZM786.15 223.25L807.80 221.12L807.80 208.78L783.74 211.15ZM807.80 455.42L783.74 453.05L781.34 465.14L807.80 467.75Z"/>
<path fill="#9fab82" d="M807.80 332.10L807.80 332.10L805.39 344.19L807.80 344.43ZM814.65 321.85L816.52 323.38L825.24 314.66L821.50 311.59ZM819.89 334.51L819.19 336.82L830.59 341.54L831.99 336.91ZM825.24 314.66L828.31 318.40L838.56 311.55L833.96 305.94ZM830.59 322.66L831.99 327.29L844.08 324.88L841.98 317.94ZM802.99 356.29L798.36 354.89L793.64 366.28L800.58 368.38ZM773.62 346.26L771.52 339.32L759.42 341.72L762.23 350.98ZM771.52 324.88L773.62 317.94L762.23 313.22L759.42 322.48ZM781.64 305.94L787.25 301.34L780.40 291.09L772.92 297.22ZM793.64 297.92L800.58 295.82L798.18 283.72L788.92 286.53ZM798.18 380.48L788.92 377.67L784.20 389.06L795.77 392.57ZM766.79 359.50L762.23 350.98L750.84 355.70L756.53 366.36ZM859.07 366.36L851.40 375.70L860.12 384.42L869.32 373.21ZM795.77 392.57L784.20 389.06L779.49 400.46L793.37 404.67ZM773.54 383.37L764.20 375.70L755.48 384.42L766.69 393.62ZM784.20 275.14L795.77 271.63L793.37 259.53L779.49 263.74ZM822.23 259.53L836.11 263.74L840.83 252.35L824.64 247.44ZM869.32 290.99L876.16 303.79L887.55 299.07L879.57 284.14ZM822.23 404.67L807.80 406.09L807.80 418.42L824.64 416.76ZM824.64 247.44L840.83 252.35L845.55 240.96L827.05 235.34ZM746.76 271.06L759.84 260.33L752.99 250.07L738.04 262.34ZM790.96 247.44L807.80 245.78L807.80 233.45L788.55 235.34ZM827.05 428.86L807.80 430.75L807.80 443.08L829.45 440.95ZM788.55 428.86L770.05 423.24L765.33 434.64L786.15 440.95ZM807.80 443.08L786.15 440.95L783.74 453.05L807.80 455.42ZM807.80 208.78L831.86 211.15L834.26 199.06L807.80 196.45ZM760.61 218.17L783.74 211.15L781.34 199.06L755.89 206.78ZM781.34 199.06L807.80 196.45L807.80 184.12L778.93 186.96Z"/>
<path fill="#769d74" d="M803.08 320.71L805.39 320.01L802.99 307.91L798.36 309.31ZM828.31 318.40L830.59 322.66L841.98 317.94L838.56 311.55ZM817.24 354.89L812.61 356.29L815.02 368.38L821.96 366.28ZM807.80 356.76L802.99 356.29L800.58 368.38L807.80 369.09ZM787.25 362.86L781.64 358.26L772.92 366.98L780.40 373.11ZM777.04 311.55L781.64 305.94L772.92 297.22L766.79 304.70ZM826.68 286.53L835.20 291.09L842.06 280.83L831.40 275.14ZM857.13 332.10L856.18 341.72L868.27 344.13L869.46 332.10ZM807.80 381.43L798.18 380.48L795.77 392.57L807.80 393.76ZM788.92 377.67L780.40 373.11L773.54 383.37L784.20 389.06ZM793.37 404.67L779.49 400.46L774.77 411.85L790.96 416.76ZM790.96 416.76L774.77 411.85L770.05 423.24L788.55 428.86ZM845.55 240.96L862.61 250.07L869.46 239.82L850.27 229.56ZM829.45 223.25L850.27 229.56L854.99 218.17L831.86 211.15ZM831.86 211.15L854.99 218.17L859.71 206.78L834.26 199.06Z"/>
<path fill="#4d916f" d="M816.52 323.38L818.05 325.25L828.31 318.40L825.24 314.66ZM818.05 338.95L816.52 340.82L825.24 349.54L828.31 345.80ZM833.96 305.94L838.56 311.55L848.81 304.70L842.68 297.22ZM777.04 352.65L773.62 346.26L762.23 350.98L766.79 359.50ZM780.40 373.11L772.92 366.98L764.20 375.70L773.54 383.37ZM831.40 275.14L842.06 280.83L848.91 270.58L836.11 263.74ZM859.07 297.84L864.76 308.50L876.16 303.79L869.32 290.99ZM836.11 400.46L822.23 404.67L824.64 416.76L840.83 411.85ZM807.80 406.09L793.37 404.67L790.96 416.76L807.80 418.42ZM807.80 418.42L790.96 416.76L788.55 428.86L807.80 430.75Z"/>
<path fill="#308a6f" d="M818.05 325.25L819.19 327.38L830.59 322.66L828.31 318.40ZM819.19 327.38L819.89 329.69L831.99 327.29L830.59 322.66ZM807.80 369.09L800.58 368.38L798.18 380.48L807.80 381.43ZM807.80 270.44L819.83 271.63L822.23 259.53L807.80 258.11ZM836.11 263.74L848.91 270.58L855.76 260.33L840.83 252.35ZM779.49 263.74L793.37 259.53L790.96 247.44L774.77 252.35ZM807.80 221.12L829.45 223.25L831.86 211.15L807.80 208.78ZM786.15 440.95L765.33 434.64L760.61 446.03L783.74 453.05Z"/>
<path fill="#167e6e" d="M812.61 356.29L807.80 356.76L807.80 369.09L815.02 368.38ZM815.02 368.38L807.80 369.09L807.80 381.43L817.42 380.48ZM807.80 282.77L817.42 283.72L819.83 271.63L807.80 270.44ZM819.83 271.63L831.40 275.14L836.11 263.74L822.23 259.53ZM807.80 245.78L824.64 247.44L827.05 235.34L807.80 233.45Z"/>
<path fill="#07696a" d="M807.80 295.11L815.02 295.82L817.42 283.72L807.80 282.77ZM828.35 301.34L833.96 305.94L842.68 297.22L835.20 291.09ZM807.80 258.11L822.23 259.53L824.64 247.44L807.80 245.78Z"/>
<path fill="#155561" d="M817.24 309.31L821.50 311.59L828.35 301.34L821.96 297.92ZM821.50 311.59L825.24 314.66L833.96 305.94L828.35 301.34ZM815.02 295.82L821.96 297.92L826.68 286.53L817.42 283.72ZM817.42 283.72L826.68 286.53L831.40 275.14L819.83 271.63ZM779.49 400.46L766.69 393.62L759.84 403.87L774.77 411.85Z"/>
<path fill="#242c46" d="M821.96 297.92L828.35 301.34L835.20 291.09L826.68 286.53ZM793.37 259.53L807.80 258.11L807.80 245.78L790.96 247.44Z"/></g>
<g fill="none" stroke="#b0b0b0" stroke-width="1.1"><circle cx="807.80" cy="332.10" r="40.10"/><circle cx="807.80" cy="332.10" r="80.20"/><circle cx="807.80" cy="332.10" r="120.30"/><circle cx="807.80" cy="332.10" r="160.40"/><circle cx="807.80" cy="332.10" r="200.50"/><line x1="807.80" y1="332.10" x2="807.80" y2="97.80"/><line x1="807.80" y1="332.10" x2="973.48" y2="166.42"/><line x1="807.80" y1="332.10" x2="1042.10" y2="332.10"/><line x1="807.80" y1="332.10" x2="973.48" y2="497.78"/><line x1="807.80" y1="332.10" x2="807.80" y2="566.40"/><line x1="807.80" y1="332.10" x2="642.12" y2="497.78"/><line x1="807.80" y1="332.10" x2="573.50" y2="332.10"/><line x1="807.80" y1="332.10" x2="642.12" y2="166.42"/></g>
<circle cx="807.80" cy="332.10" r="234.30" fill="none" stroke="#000" stroke-width="1.1"/>
<circle cx="1341.90" cy="332.10" r="234.30" fill="#eeedf2"/>
<g shape-rendering="crispEdges"><path fill="#e2dad5" d="M1341.90 332.10L1341.90 332.10L1344.31 320.01L1341.90 319.77ZM1341.90 332.10L1341.90 332.10L1346.62 320.71L1344.31 320.01ZM1341.90 332.10L1341.90 332.10L1348.75 321.85L1346.62 320.71ZM1341.90 332.10L1341.90 332.10L1350.62 323.38L1348.75 321.85ZM1341.90 332.10L1341.90 332.10L1352.15 325.25L1350.62 323.38ZM1341.90 332.10L1341.90 332.10L1353.29 327.38L1352.15 325.25ZM1341.90 332.10L1341.90 332.10L1354.23 332.10L1353.99 329.69ZM1341.90 332.10L1341.90 332.10L1353.99 334.51L1354.23 332.10ZM1341.90 332.10L1341.90 332.10L1353.29 336.82L1353.99 334.51ZM1341.90 332.10L1341.90 332.10L1350.62 340.82L1352.15 338.95ZM1341.90 332.10L1341.90 332.10L1348.75 342.35L1350.62 340.82ZM1341.90 332.10L1341.90 332.10L1335.05 342.35L1337.18 343.49ZM1341.90 332.10L1341.90 332.10L1331.65 338.95L1333.18 340.82ZM1341.90 332.10L1341.90 332.10L1330.51 336.82L1331.65 338.95ZM1341.90 332.10L1341.90 332.10L1329.81 334.51L1330.51 336.82ZM1341.90 332.10L1341.90 332.10L1331.65 325.25L1330.51 327.38ZM1341.90 332.10L1341.90 332.10L1333.18 323.38L1331.65 325.25ZM1341.90 332.10L1341.90 332.10L1335.05 321.85L1333.18 323.38ZM1341.90 332.10L1341.90 332.10L1337.18 320.71L1335.05 321.85ZM1341.90 332.10L1341.90 332.10L1339.49 320.01L1337.18 320.71ZM1341.90 332.10L1341.90 332.10L1341.90 319.77L1339.49 320.01ZM1341.90 319.77L1344.31 320.01L1346.71 307.91L1341.90 307.44ZM1346.62 320.71L1348.75 321.85L1355.60 311.59L1351.34 309.31ZM1348.75 321.85L1350.62 323.38L1359.34 314.66L1355.60 311.59ZM1350.62 323.38L1352.15 325.25L1362.41 318.40L1359.34 314.66ZM1352.15 338.95L1350.62 340.82L1359.34 349.54L1362.41 345.80ZM1348.75 342.35L1346.62 343.49L1351.34 354.89L1355.60 352.61ZM1346.62 343.49L1344.31 344.19L1346.71 356.29L1351.34 354.89ZM1344.31 344.19L1341.90 344.43L1341.90 356.76L1346.71 356.29ZM1335.05 342.35L1333.18 340.82L1324.46 349.54L1328.20 352.61ZM1333.18 340.82L1331.65 338.95L1321.39 345.80L1324.46 349.54ZM1330.51 327.38L1331.65 325.25L1321.39 318.40L1319.11 322.66ZM1331.65 325.25L1333.18 323.38L1324.46 314.66L1321.39 318.40ZM1346.71 307.91L1351.34 309.31L1356.06 297.92L1349.12 295.82ZM1362.41 318.40L1364.69 322.66L1376.08 317.94L1372.66 311.55ZM1364.69 322.66L1366.09 327.29L1378.18 324.88L1376.08 317.94ZM1364.69 341.54L1362.41 345.80L1372.66 352.65L1376.08 346.26ZM1362.41 345.80L1359.34 349.54L1368.06 358.26L1372.66 352.65ZM1359.34 349.54L1355.60 352.61L1362.45 362.86L1368.06 358.26ZM1346.71 356.29L1341.90 356.76L1341.90 369.09L1349.12 368.38ZM1337.09 356.29L1332.46 354.89L1327.74 366.28L1334.68 368.38ZM1332.46 354.89L1328.20 352.61L1321.35 362.86L1327.74 366.28ZM1362.45 301.34L1368.06 305.94L1376.78 297.22L1369.30 291.09ZM1368.06 305.94L1372.66 311.55L1382.91 304.70L1376.78 297.22ZM1372.66 311.55L1376.08 317.94L1387.47 313.22L1382.91 304.70ZM1378.89 332.10L1378.18 339.32L1390.28 341.72L1391.23 332.10ZM1376.08 346.26L1372.66 352.65L1382.91 359.50L1387.47 350.98ZM1390.28 341.72L1387.47 350.98L1398.86 355.70L1402.37 344.13ZM1387.47 350.98L1382.91 359.50L1393.17 366.36L1398.86 355.70ZM1382.91 359.50L1376.78 366.98L1385.50 375.70L1393.17 366.36ZM1376.78 366.98L1369.30 373.11L1376.16 383.37L1385.50 375.70ZM1353.93 271.63L1365.50 275.14L1370.21 263.74L1356.33 259.53ZM1398.86 308.50L1402.37 320.07L1414.47 317.67L1410.26 303.79ZM1402.37 344.13L1398.86 355.70L1410.26 360.41L1414.47 346.53ZM1398.86 355.70L1393.17 366.36L1403.42 373.21L1410.26 360.41ZM1341.90 258.11L1356.33 259.53L1358.74 247.44L1341.90 245.78ZM1394.22 279.78L1403.42 290.99L1413.67 284.14L1402.94 271.06ZM1410.26 360.41L1403.42 373.21L1413.67 380.06L1421.65 365.13ZM1403.42 373.21L1394.22 384.42L1402.94 393.14L1413.67 380.06ZM1394.22 384.42L1383.01 393.62L1389.86 403.87L1402.94 393.14ZM1327.47 259.53L1341.90 258.11L1341.90 245.78L1325.06 247.44ZM1341.90 245.78L1358.74 247.44L1361.15 235.34L1341.90 233.45ZM1421.65 365.13L1413.67 380.06L1423.93 386.91L1433.04 369.85ZM1402.94 393.14L1389.86 403.87L1396.71 414.13L1411.66 401.86ZM1293.94 403.87L1280.86 393.14L1272.14 401.86L1287.09 414.13ZM1262.15 365.13L1257.24 348.94L1245.14 351.35L1250.76 369.85ZM1257.24 348.94L1255.58 332.10L1243.25 332.10L1245.14 351.35ZM1255.58 332.10L1257.24 315.26L1245.14 312.85L1243.25 332.10ZM1262.15 299.07L1270.13 284.14L1259.87 277.29L1250.76 294.35ZM1270.13 284.14L1280.86 271.06L1272.14 262.34L1259.87 277.29ZM1280.86 271.06L1293.94 260.33L1287.09 250.07L1272.14 262.34ZM1293.94 260.33L1308.87 252.35L1304.15 240.96L1287.09 250.07ZM1308.87 252.35L1325.06 247.44L1322.65 235.34L1304.15 240.96ZM1433.04 369.85L1423.93 386.91L1434.18 393.76L1444.44 374.57ZM1423.93 386.91L1411.66 401.86L1420.38 410.58L1434.18 393.76ZM1396.71 414.13L1379.65 423.24L1384.37 434.64L1403.56 424.38ZM1272.14 401.86L1259.87 386.91L1249.62 393.76L1263.42 410.58ZM1259.87 386.91L1250.76 369.85L1239.36 374.57L1249.62 393.76ZM1245.14 312.85L1250.76 294.35L1239.36 289.63L1233.05 310.45ZM1304.15 240.96L1322.65 235.34L1320.25 223.25L1299.43 229.56ZM1434.18 393.76L1420.38 410.58L1429.10 419.30L1444.43 400.61ZM1420.38 410.58L1403.56 424.38L1410.41 434.63L1429.10 419.30ZM1280.24 424.38L1263.42 410.58L1254.70 419.30L1273.39 434.63ZM1263.42 410.58L1249.62 393.76L1239.37 400.61L1254.70 419.30ZM1429.10 419.30L1410.41 434.63L1417.26 444.89L1437.82 428.02ZM1341.90 467.75L1315.44 465.14L1313.03 477.24L1341.90 480.08ZM1315.44 465.14L1289.99 457.42L1285.27 468.81L1313.03 477.24ZM1289.99 457.42L1266.54 444.89L1259.69 455.14L1285.27 468.81ZM1266.54 444.89L1245.98 428.02L1237.26 436.74L1259.69 455.14ZM1370.77 477.24L1341.90 480.08L1341.90 492.41L1373.18 489.33ZM1341.90 492.41L1310.62 489.33L1308.22 501.42L1341.90 504.74Z"/>
<path fill="#d7c5ae" d="M1341.90 332.10L1341.90 332.10L1330.51 327.38L1329.81 329.69ZM1353.29 327.38L1353.99 329.69L1366.09 327.29L1364.69 322.66ZM1353.99 329.69L1354.23 332.10L1366.56 332.10L1366.09 327.29ZM1353.99 334.51L1353.29 336.82L1364.69 341.54L1366.09 336.91ZM1330.51 336.82L1329.81 334.51L1317.71 336.91L1319.11 341.54ZM1329.57 332.10L1329.81 329.69L1317.71 327.29L1317.24 332.10ZM1329.81 329.69L1330.51 327.38L1319.11 322.66L1317.71 327.29ZM1337.18 320.71L1339.49 320.01L1337.09 307.91L1332.46 309.31ZM1351.34 309.31L1355.60 311.59L1362.45 301.34L1356.06 297.92ZM1366.09 327.29L1366.56 332.10L1378.89 332.10L1378.18 324.88ZM1355.60 352.61L1351.34 354.89L1356.06 366.28L1362.45 362.86ZM1341.90 356.76L1337.09 356.29L1334.68 368.38L1341.90 369.09ZM1321.39 345.80L1319.11 341.54L1307.72 346.26L1311.14 352.65ZM1317.71 336.91L1317.24 332.10L1304.91 332.10L1305.62 339.32ZM1317.71 327.29L1319.11 322.66L1307.72 317.94L1305.62 324.88ZM1378.18 324.88L1378.89 332.10L1391.23 332.10L1390.28 322.48ZM1372.66 352.65L1368.06 358.26L1376.78 366.98L1382.91 359.50ZM1356.06 366.28L1349.12 368.38L1351.52 380.48L1360.78 377.67ZM1321.35 301.34L1327.74 297.92L1323.02 286.53L1314.50 291.09ZM1327.74 297.92L1334.68 295.82L1332.28 283.72L1323.02 286.53ZM1369.30 291.09L1376.78 297.22L1385.50 288.50L1376.16 280.83ZM1387.47 313.22L1390.28 322.48L1402.37 320.07L1398.86 308.50ZM1323.02 377.67L1314.50 373.11L1307.64 383.37L1318.30 389.06ZM1341.90 270.44L1353.93 271.63L1356.33 259.53L1341.90 258.11ZM1376.16 280.83L1385.50 288.50L1394.22 279.78L1383.01 270.58ZM1385.50 288.50L1393.17 297.84L1403.42 290.99L1394.22 279.78ZM1284.94 308.50L1290.63 297.84L1280.38 290.99L1273.54 303.79ZM1356.33 259.53L1370.21 263.74L1374.93 252.35L1358.74 247.44ZM1414.47 346.53L1410.26 360.41L1421.65 365.13L1426.56 348.94ZM1313.59 400.46L1300.79 393.62L1293.94 403.87L1308.87 411.85ZM1280.38 290.99L1289.58 279.78L1280.86 271.06L1270.13 284.14ZM1287.09 414.13L1272.14 401.86L1263.42 410.58L1280.24 424.38ZM1363.55 440.95L1341.90 443.08L1341.90 455.42L1365.96 453.05ZM1320.25 440.95L1299.43 434.64L1294.71 446.03L1317.84 453.05ZM1410.41 434.63L1389.09 446.03L1393.81 457.42L1417.26 444.89ZM1389.09 446.03L1365.96 453.05L1368.36 465.14L1393.81 457.42ZM1365.96 453.05L1341.90 455.42L1341.90 467.75L1368.36 465.14ZM1368.36 465.14L1341.90 467.75L1341.90 480.08L1370.77 477.24Z"/>
<path fill="#c1b68d" d="M1350.62 340.82L1348.75 342.35L1355.60 352.61L1359.34 349.54ZM1339.49 344.19L1337.18 343.49L1332.46 354.89L1337.09 356.29ZM1331.65 338.95L1330.51 336.82L1319.11 341.54L1321.39 345.80ZM1333.18 323.38L1335.05 321.85L1328.20 311.59L1324.46 314.66ZM1335.05 321.85L1337.18 320.71L1332.46 309.31L1328.20 311.59ZM1355.60 311.59L1359.34 314.66L1368.06 305.94L1362.45 301.34ZM1359.34 314.66L1362.41 318.40L1372.66 311.55L1368.06 305.94ZM1317.24 332.10L1317.71 327.29L1305.62 324.88L1304.91 332.10ZM1319.11 322.66L1321.39 318.40L1311.14 311.55L1307.72 317.94ZM1328.20 311.59L1332.46 309.31L1327.74 297.92L1321.35 301.34ZM1332.46 309.31L1337.09 307.91L1334.68 295.82L1327.74 297.92ZM1341.90 295.11L1349.12 295.82L1351.52 283.72L1341.90 282.77ZM1376.08 317.94L1378.18 324.88L1390.28 322.48L1387.47 313.22ZM1378.18 339.32L1376.08 346.26L1387.47 350.98L1390.28 341.72ZM1349.12 368.38L1341.90 369.09L1341.90 381.43L1351.52 380.48ZM1341.90 369.09L1334.68 368.38L1332.28 380.48L1341.90 381.43ZM1334.68 368.38L1327.74 366.28L1323.02 377.67L1332.28 380.48ZM1327.74 366.28L1321.35 362.86L1314.50 373.11L1323.02 377.67ZM1307.72 346.26L1305.62 339.32L1293.52 341.72L1296.33 350.98ZM1341.90 282.77L1351.52 283.72L1353.93 271.63L1341.90 270.44ZM1360.78 377.67L1351.52 380.48L1353.93 392.57L1365.50 389.06ZM1341.90 381.43L1332.28 380.48L1329.87 392.57L1341.90 393.76ZM1296.33 313.22L1300.89 304.70L1290.63 297.84L1284.94 308.50ZM1307.02 297.22L1314.50 291.09L1307.64 280.83L1298.30 288.50ZM1365.50 275.14L1376.16 280.83L1383.01 270.58L1370.21 263.74ZM1393.17 366.36L1385.50 375.70L1394.22 384.42L1403.42 373.21ZM1365.50 389.06L1353.93 392.57L1356.33 404.67L1370.21 400.46ZM1353.93 392.57L1341.90 393.76L1341.90 406.09L1356.33 404.67ZM1329.87 392.57L1318.30 389.06L1313.59 400.46L1327.47 404.67ZM1329.87 271.63L1341.90 270.44L1341.90 258.11L1327.47 259.53ZM1383.01 393.62L1370.21 400.46L1374.93 411.85L1389.86 403.87ZM1356.33 404.67L1341.90 406.09L1341.90 418.42L1358.74 416.76ZM1327.47 404.67L1313.59 400.46L1308.87 411.85L1325.06 416.76ZM1280.38 373.21L1273.54 360.41L1262.15 365.13L1270.13 380.06ZM1267.91 332.10L1269.33 317.67L1257.24 315.26L1255.58 332.10ZM1289.58 279.78L1300.79 270.58L1293.94 260.33L1280.86 271.06ZM1313.59 263.74L1327.47 259.53L1325.06 247.44L1308.87 252.35ZM1257.24 315.26L1262.15 299.07L1250.76 294.35L1245.14 312.85ZM1379.65 423.24L1361.15 428.86L1363.55 440.95L1384.37 434.64ZM1403.56 424.38L1384.37 434.64L1389.09 446.03L1410.41 434.63ZM1384.37 434.64L1363.55 440.95L1365.96 453.05L1389.09 446.03ZM1341.90 443.08L1320.25 440.95L1317.84 453.05L1341.90 455.42ZM1294.71 446.03L1273.39 434.63L1266.54 444.89L1289.99 457.42ZM1341.90 480.08L1313.03 477.24L1310.62 489.33L1341.90 492.41ZM1313.03 477.24L1285.27 468.81L1280.55 480.21L1310.62 489.33Z"/>
<path fill="#9fab82" d="M1354.23 332.10L1353.99 334.51L1366.09 336.91L1366.56 332.10ZM1341.90 307.44L1346.71 307.91L1349.12 295.82L1341.90 295.11ZM1351.34 354.89L1346.71 356.29L1349.12 368.38L1356.06 366.28ZM1328.20 352.61L1324.46 349.54L1315.74 358.26L1321.35 362.86ZM1356.06 297.92L1362.45 301.34L1369.30 291.09L1360.78 286.53ZM1351.52 283.72L1360.78 286.53L1365.50 275.14L1353.93 271.63ZM1332.28 380.48L1323.02 377.67L1318.30 389.06L1329.87 392.57ZM1385.50 375.70L1376.16 383.37L1383.01 393.62L1394.22 384.42ZM1284.94 355.70L1281.43 344.13L1269.33 346.53L1273.54 360.41ZM1280.24 332.10L1281.43 320.07L1269.33 317.67L1267.91 332.10ZM1318.30 275.14L1329.87 271.63L1327.47 259.53L1313.59 263.74ZM1273.54 360.41L1269.33 346.53L1257.24 348.94L1262.15 365.13ZM1269.33 346.53L1267.91 332.10L1255.58 332.10L1257.24 348.94ZM1273.54 303.79L1280.38 290.99L1270.13 284.14L1262.15 299.07ZM1389.86 403.87L1374.93 411.85L1379.65 423.24L1396.71 414.13ZM1299.43 434.64L1280.24 424.38L1273.39 434.63L1294.71 446.03ZM1317.84 453.05L1294.71 446.03L1289.99 457.42L1315.44 465.14Z"/>
<path fill="#769d74" d="M1337.18 343.49L1335.05 342.35L1328.20 352.61L1332.46 354.89ZM1339.49 320.01L1341.90 319.77L1341.90 307.44L1337.09 307.91ZM1324.46 349.54L1321.39 345.80L1311.14 352.65L1315.74 358.26ZM1321.39 318.40L1324.46 314.66L1315.74 305.94L1311.14 311.55ZM1324.46 314.66L1328.20 311.59L1321.35 301.34L1315.74 305.94ZM1337.09 307.91L1341.90 307.44L1341.90 295.11L1334.68 295.82ZM1362.45 362.86L1356.06 366.28L1360.78 377.67L1369.30 373.11ZM1321.35 362.86L1315.74 358.26L1307.02 366.98L1314.50 373.11ZM1307.72 317.94L1311.14 311.55L1300.89 304.70L1296.33 313.22ZM1311.14 311.55L1315.74 305.94L1307.02 297.22L1300.89 304.70ZM1315.74 305.94L1321.35 301.34L1314.50 291.09L1307.02 297.22ZM1360.78 286.53L1369.30 291.09L1376.16 280.83L1365.50 275.14ZM1369.30 373.11L1360.78 377.67L1365.50 389.06L1376.16 383.37ZM1307.02 366.98L1300.89 359.50L1290.63 366.36L1298.30 375.70ZM1293.52 322.48L1296.33 313.22L1284.94 308.50L1281.43 320.07ZM1323.02 286.53L1332.28 283.72L1329.87 271.63L1318.30 275.14ZM1298.30 375.70L1290.63 366.36L1280.38 373.21L1289.58 384.42ZM1290.63 366.36L1284.94 355.70L1273.54 360.41L1280.38 373.21ZM1281.43 344.13L1280.24 332.10L1267.91 332.10L1269.33 346.53ZM1281.43 320.07L1284.94 308.50L1273.54 303.79L1269.33 317.67ZM1298.30 288.50L1307.64 280.83L1300.79 270.58L1289.58 279.78ZM1341.90 406.09L1327.47 404.67L1325.06 416.76L1341.90 418.42ZM1289.58 384.42L1280.38 373.21L1270.13 380.06L1280.86 393.14ZM1269.33 317.67L1273.54 303.79L1262.15 299.07L1257.24 315.26ZM1358.74 416.76L1341.90 418.42L1341.90 430.75L1361.15 428.86ZM1341.90 418.42L1325.06 416.76L1322.65 428.86L1341.90 430.75ZM1308.87 411.85L1293.94 403.87L1287.09 414.13L1304.15 423.24ZM1411.66 401.86L1396.71 414.13L1403.56 424.38L1420.38 410.58ZM1341.90 455.42L1317.84 453.05L1315.44 465.14L1341.90 467.75Z"/>
<path fill="#4d916f" d="M1315.74 358.26L1311.14 352.65L1300.89 359.50L1307.02 366.98ZM1304.91 332.10L1305.62 324.88L1293.52 322.48L1292.57 332.10ZM1334.68 295.82L1341.90 295.11L1341.90 282.77L1332.28 283.72ZM1351.52 380.48L1341.90 381.43L1341.90 393.76L1353.93 392.57ZM1376.16 383.37L1365.50 389.06L1370.21 400.46L1383.01 393.62ZM1307.64 383.37L1298.30 375.70L1289.58 384.42L1300.79 393.62ZM1300.79 270.58L1313.59 263.74L1308.87 252.35L1293.94 260.33ZM1374.93 411.85L1358.74 416.76L1361.15 428.86L1379.65 423.24ZM1341.90 430.75L1322.65 428.86L1320.25 440.95L1341.90 443.08ZM1322.65 428.86L1304.15 423.24L1299.43 434.64L1320.25 440.95Z"/>
<path fill="#308a6f" d="M1311.14 352.65L1307.72 346.26L1296.33 350.98L1300.89 359.50ZM1314.50 373.11L1307.02 366.98L1298.30 375.70L1307.64 383.37ZM1296.33 350.98L1293.52 341.72L1281.43 344.13L1284.94 355.70ZM1307.64 280.83L1318.30 275.14L1313.59 263.74L1300.79 270.58ZM1361.15 428.86L1341.90 430.75L1341.90 443.08L1363.55 440.95ZM1304.15 423.24L1287.09 414.13L1280.24 424.38L1299.43 434.64Z"/>
<path fill="#167e6e" d="M1319.11 341.54L1317.71 336.91L1305.62 339.32L1307.72 346.26ZM1305.62 324.88L1307.72 317.94L1296.33 313.22L1293.52 322.48ZM1300.89 359.50L1296.33 350.98L1284.94 355.70L1290.63 366.36ZM1314.50 291.09L1323.02 286.53L1318.30 275.14L1307.64 280.83ZM1332.28 283.72L1341.90 282.77L1341.90 270.44L1329.87 271.63ZM1318.30 389.06L1307.64 383.37L1300.79 393.62L1313.59 400.46ZM1290.63 297.84L1298.30 288.50L1289.58 279.78L1280.38 290.99ZM1370.21 400.46L1356.33 404.67L1358.74 416.76L1374.93 411.85ZM1325.06 416.76L1308.87 411.85L1304.15 423.24L1322.65 428.86Z"/>
<path fill="#07696a" d="M1292.57 332.10L1293.52 322.48L1281.43 320.07L1280.24 332.10ZM1341.90 393.76L1329.87 392.57L1327.47 404.67L1341.90 406.09Z"/>
<path fill="#242c46" d="M1293.52 341.72L1292.57 332.10L1280.24 332.10L1281.43 344.13Z"/>
<path fill="#221a36" d="M1305.62 339.32L1304.91 332.10L1292.57 332.10L1293.52 341.72ZM1300.89 304.70L1307.02 297.22L1298.30 288.50L1290.63 297.84Z"/></g>
<g fill="none" stroke="#b0b0b0" stroke-width="1.1"><circle cx="1341.90" cy="332.10" r="40.10"/><circle cx="1341.90" cy="332.10" r="80.20"/><circle cx="1341.90" cy="332.10" r="120.30"/><circle cx="1341.90" cy="332.10" r="160.40"/><circle cx="1341.90" cy="332.10" r="200.50"/><line x1="1341.90" y1="332.10" x2="1341.90" y2="97.80"/><line x1="1341.90" y1="332.10" x2="1507.58" y2="166.42"/><line x1="1341.90" y1="332.10" x2="1576.20" y2="332.10"/><line x1="1341.90" y1="332.10" x2="1507.58" y2="497.78"/><line x1="1341.90" y1="332.10" x2="1341.90" y2="566.40"/><line x1="1341.90" y1="332.10" x2="1176.22" y2="497.78"/><line x1="1341.90" y1="332.10" x2="1107.60" y2="332.10"/><line x1="1341.90" y1="332.10" x2="1176.22" y2="166.42"/></g>
<circle cx="1341.90" cy="332.10" r="234.30" fill="none" stroke="#000" stroke-width="1.1"/>
<g fill="#000"><text x="273.40" y="61.0" font-size="25" text-anchor="middle">CIOFS</text>
<text x="273.40" y="84.0" font-size="19.4" text-anchor="middle">N</text>
<text x="273.40" y="591.8" font-size="19.4" text-anchor="middle">S</text>
<text x="528.40" y="337.9" font-size="19.4" text-anchor="middle">E</text>
<text x="20.70" y="337.9" font-size="19.4" text-anchor="middle">W</text>
<text x="325.95" y="312.95" font-size="19.4" text-anchor="middle">0.2</text>
<text x="363.00" y="297.61" font-size="19.4" text-anchor="middle">0.4</text>
<text x="400.04" y="282.26" font-size="19.4" text-anchor="middle">0.6</text>
<text x="437.09" y="266.92" font-size="19.4" text-anchor="middle">0.8</text>
<text x="474.14" y="251.57" font-size="19.4" text-anchor="middle">1.0</text>
<text x="807.80" y="61.0" font-size="25" text-anchor="middle">NWGOA</text>
<text x="807.80" y="84.0" font-size="19.4" text-anchor="middle">N</text>
<text x="807.80" y="591.8" font-size="19.4" text-anchor="middle">S</text>
<text x="1062.80" y="337.9" font-size="19.4" text-anchor="middle">E</text>
<text x="555.10" y="337.9" font-size="19.4" text-anchor="middle">W</text>
<text x="860.35" y="312.95" font-size="19.4" text-anchor="middle">0.2</text>
<text x="897.40" y="297.61" font-size="19.4" text-anchor="middle">0.4</text>
<text x="934.44" y="282.26" font-size="19.4" text-anchor="middle">0.6</text>
<text x="971.49" y="266.92" font-size="19.4" text-anchor="middle">0.8</text>
<text x="1008.54" y="251.57" font-size="19.4" text-anchor="middle">1.0</text>
<text x="1341.90" y="61.0" font-size="25" text-anchor="middle">CIOFS-NWGOA</text>
<text x="1341.90" y="84.0" font-size="19.4" text-anchor="middle">N</text>
<text x="1341.90" y="591.8" font-size="19.4" text-anchor="middle">S</text>
<text x="1596.90" y="337.9" font-size="19.4" text-anchor="middle">E</text>
<text x="1089.20" y="337.9" font-size="19.4" text-anchor="middle">W</text>
<text x="1394.45" y="312.95" font-size="19.4" text-anchor="middle">0.2</text>
<text x="1431.50" y="297.61" font-size="19.4" text-anchor="middle">0.4</text>
<text x="1468.54" y="282.26" font-size="19.4" text-anchor="middle">0.6</text>
<text x="1505.59" y="266.92" font-size="19.4" text-anchor="middle">0.8</text>
<text x="1542.64" y="251.57" font-size="19.4" text-anchor="middle">1.0</text>
<text x="806.2" y="32.0" font-size="27.8" text-anchor="middle">Mar 2008</text></g>
<defs><linearGradient id="cbg" x1="0" x2="1" y1="0" y2="0"><stop offset="0.000" stop-color="#EEEDF2"/><stop offset="0.062" stop-color="#E4DEDC"/><stop offset="0.123" stop-color="#DCCDC0"/><stop offset="0.174" stop-color="#D4BFA3"/><stop offset="0.200" stop-color="#CDB994"/><stop offset="0.236" stop-color="#BFB68C"/><stop offset="0.279" stop-color="#ACAF86"/><stop offset="0.326" stop-color="#97A87F"/><stop offset="0.366" stop-color="#80A077"/><stop offset="0.400" stop-color="#6E9A72"/><stop offset="0.440" stop-color="#59936F"/><stop offset="0.476" stop-color="#45906F"/><stop offset="0.500" stop-color="#3C8E70"/><stop offset="0.560" stop-color="#2A876E"/><stop offset="0.610" stop-color="#18806E"/><stop offset="0.650" stop-color="#06716C"/><stop offset="0.690" stop-color="#076A6A"/><stop offset="0.750" stop-color="#115A63"/><stop offset="0.810" stop-color="#1D4A5C"/><stop offset="0.870" stop-color="#243A52"/><stop offset="0.930" stop-color="#242A45"/><stop offset="1.000" stop-color="#221A36"/></linearGradient></defs>
<rect x="406.50" y="605.50" width="800.00" height="30.00" fill="url(#cbg)" stroke="#000" stroke-width="1"/>
<line x1="406.50" y1="635.50" x2="406.50" y2="657.50" stroke="#000" stroke-width="1"/>
<text x="406.50" y="681.0" font-size="22.2" text-anchor="middle">0</text>
<line x1="529.50" y1="635.50" x2="529.50" y2="657.50" stroke="#000" stroke-width="1"/>
<text x="529.58" y="681.0" font-size="22.2" text-anchor="middle">2</text>
<line x1="652.50" y1="635.50" x2="652.50" y2="657.50" stroke="#000" stroke-width="1"/>
<text x="652.65" y="681.0" font-size="22.2" text-anchor="middle">4</text>
<line x1="775.50" y1="635.50" x2="775.50" y2="657.50" stroke="#000" stroke-width="1"/>
<text x="775.73" y="681.0" font-size="22.2" text-anchor="middle">6</text>
<line x1="898.50" y1="635.50" x2="898.50" y2="657.50" stroke="#000" stroke-width="1"/>
<text x="898.81" y="681.0" font-size="22.2" text-anchor="middle">8</text>
<line x1="1021.50" y1="635.50" x2="1021.50" y2="657.50" stroke="#000" stroke-width="1"/>
<text x="1021.88" y="681.0" font-size="22.2" text-anchor="middle">10</text>
<line x1="1144.50" y1="635.50" x2="1144.50" y2="657.50" stroke="#000" stroke-width="1"/>
<text x="1144.96" y="681.0" font-size="22.2" text-anchor="middle">12</text>
<text x="805.7" y="708.9" font-size="22.2" text-anchor="middle">Currents [m/s] at COI0514; number of occurrences</text></svg>
</body></html>
